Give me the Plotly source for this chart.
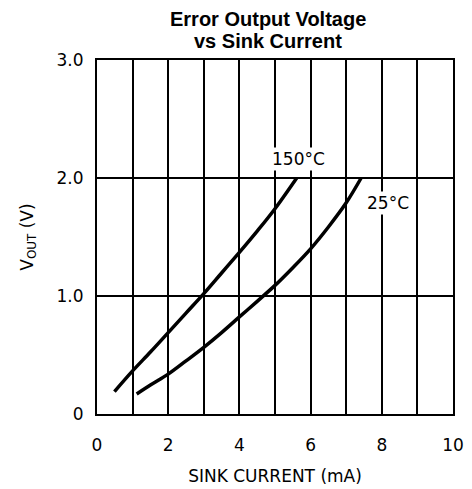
import plotly.graph_objects as go

# Data
i_150 = [0.49, 1.0, 1.5, 2.0, 2.5, 3.0, 3.5, 4.0, 4.5, 5.0, 5.61]
v_150 = [0.19, 0.365, 0.525, 0.69, 0.855, 1.02, 1.195, 1.37, 1.55, 1.74, 2.0]
i_25 = [1.115, 1.5, 2.0, 2.5, 3.0, 3.5, 4.0, 4.5, 5.0, 5.5, 6.0, 6.5, 7.0, 7.42]
v_25 = [0.169, 0.245, 0.338, 0.45, 0.565, 0.69, 0.823, 0.955, 1.09, 1.24, 1.40, 1.585, 1.79, 2.0]

x_ticks = [0, 2, 4, 6, 8, 10]
x_ticklabels = ["0", "2", "4", "6", "8", "10"]
y_ticks = [0, 1, 2, 3]
y_ticklabels = ["0", "1.0", "2.0", "3.0"]

label_150 = "150°C"
label_25 = "25°C"
title_lines = ["Error Output Voltage", "vs Sink Current"]

FONT = "DejaVu Sans"
TFONT = "Liberation Sans"

fig = go.Figure()
fig.add_trace(go.Scatter(x=i_150, y=v_150, mode="lines",
                         line=dict(color="black", width=3.5, shape="spline", smoothing=1),
                         showlegend=False, hoverinfo="skip"))
fig.add_trace(go.Scatter(x=i_25, y=v_25, mode="lines",
                         line=dict(color="black", width=3.5, shape="spline", smoothing=1),
                         showlegend=False, hoverinfo="skip"))

fig.add_annotation(x=5.65, y=2.16, text=label_150, showarrow=False,
                   bgcolor="white", font=dict(family=FONT, size=17, color="black"))
fig.add_annotation(x=8.17, y=1.79, text=label_25, showarrow=False,
                   bgcolor="white", font=dict(family=FONT, size=17, color="black"))

for line_text, ypos in zip(title_lines, [1.116, 1.054]):
    fig.add_annotation(xref="paper", yref="paper", x=0.479, y=ypos, yanchor="middle",
                       showarrow=False, align="center",
                       text="<b>" + line_text + "</b>",
                       font=dict(family=TFONT, size=20, color="black"))

# page body adds an 8px offset, so the figure is sized to fit the window
fig.update_layout(
    width=464, height=481,
    margin=dict(l=89, r=19, t=52, b=75, autoexpand=False),
    paper_bgcolor="white", plot_bgcolor="white",
    xaxis=dict(range=[0, 10], tickvals=x_ticks, ticktext=x_ticklabels,
               showgrid=True, gridcolor="black", gridwidth=1.5,
               minor=dict(dtick=1, showgrid=True, gridcolor="black", gridwidth=1.5),
               showline=True, linecolor="black", linewidth=2, mirror=True,
               zeroline=False, ticks="", ticklabelstandoff=15, automargin=False,
               tickfont=dict(family=FONT, size=17, color="black"),
               title=dict(text="SINK CURRENT (mA)", standoff=16,
                          font=dict(family=FONT, size=17, color="black"))),
    yaxis=dict(range=[0, 3], tickvals=y_ticks, ticktext=y_ticklabels,
               showgrid=True, gridcolor="black", gridwidth=1.5,
               showline=True, linecolor="black", linewidth=2, mirror=True,
               zeroline=False, ticks="", ticklabelstandoff=8, automargin=False,
               tickfont=dict(family=FONT, size=17, color="black"),
               title=dict(text="V<sub>OUT</sub> (V)", standoff=19,
                          font=dict(family=FONT, size=17, color="black"))),
)

fig.write_html("out.html")
